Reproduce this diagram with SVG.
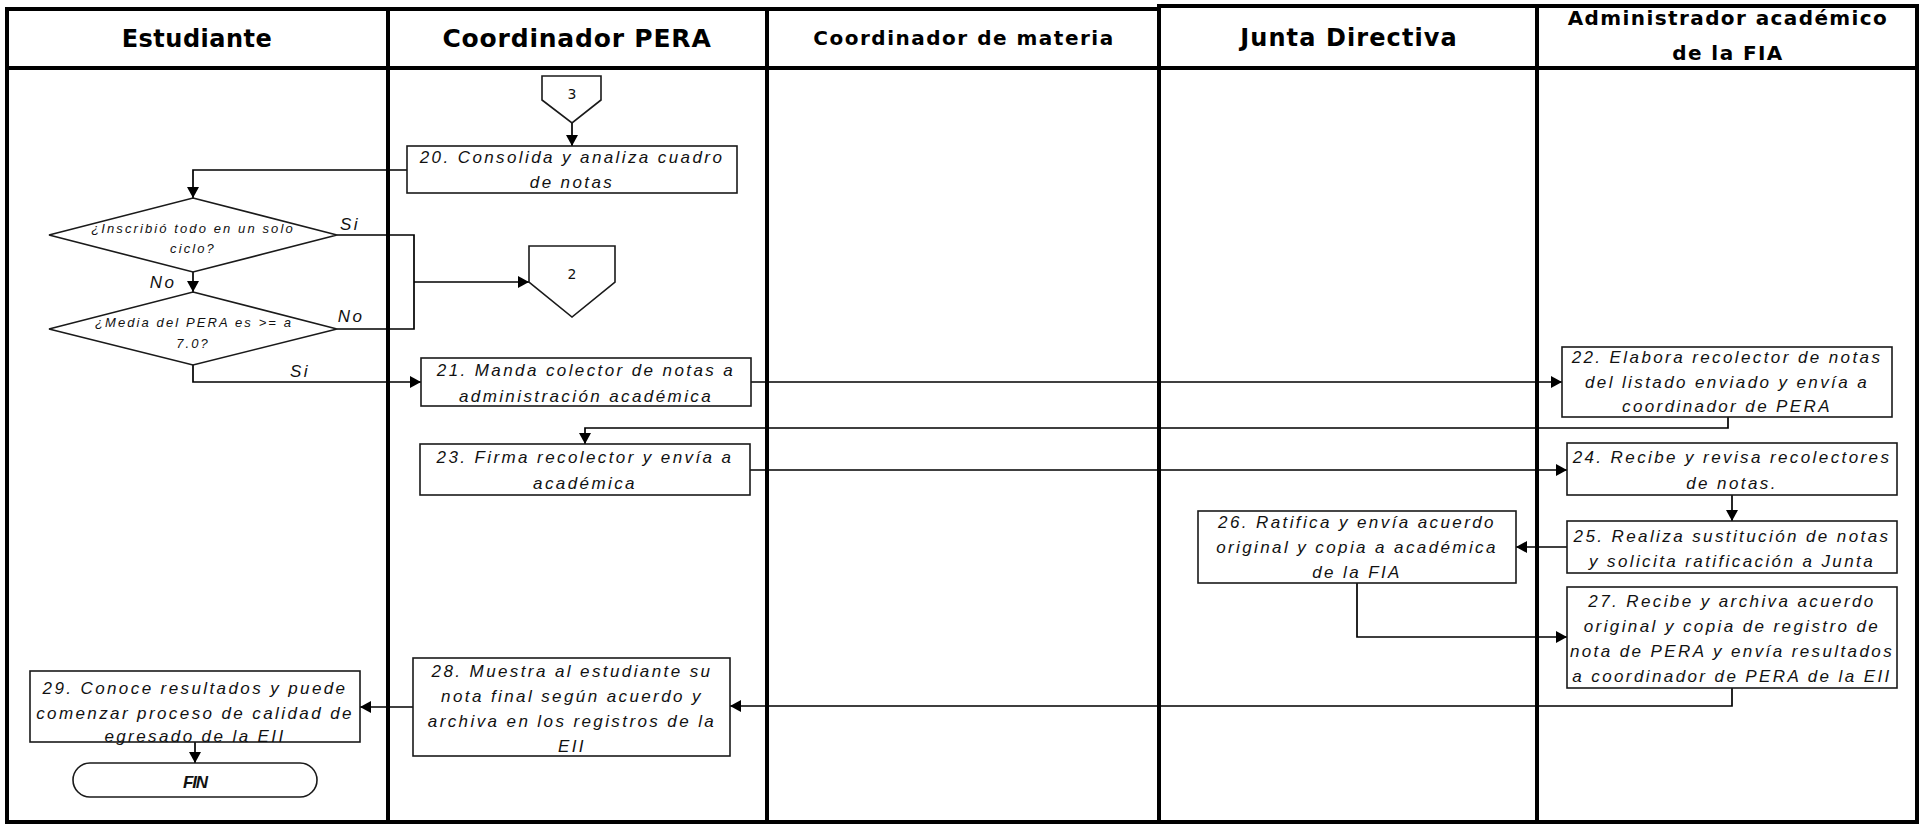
<svg xmlns="http://www.w3.org/2000/svg" width="1923" height="825" viewBox="0 0 1923 825">
<style>
.frame{stroke:#000;stroke-width:4;fill:none;stroke-linecap:square}
.box{fill:#fff;stroke:#1a1a1a;stroke-width:1.6}
.t{font-family:"Liberation Sans",Arial,sans-serif;font-style:italic;font-size:17px;letter-spacing:2.4px;text-anchor:middle;fill:#111}
.d{font-size:13px;letter-spacing:2.1px}
.lb{font-size:17px;letter-spacing:2.5px}
.fin{font-weight:bold;letter-spacing:-1.2px}
.hd{font-family:"DejaVu Sans",sans-serif;font-weight:bold;text-anchor:middle;fill:#000}
.num{font-family:"DejaVu Sans",sans-serif;font-size:14px;text-anchor:middle;fill:#111}
.c{fill:none;stroke:#000;stroke-width:1.7}
.ca{fill:none;stroke:#000;stroke-width:1.7;marker-end:url(#ah)}
</style>
<defs>
<marker id="ah" markerUnits="userSpaceOnUse" markerWidth="12" markerHeight="12" refX="11" refY="6" orient="auto">
<path d="M0,0 L11,6 L0,12 z" fill="#000"/>
</marker>
</defs>
<rect x="0" y="0" width="1923" height="825" fill="#fff"/>

<!-- swimlane frame -->
<g id="lanes">
<line class="frame" x1="7" y1="9" x2="1159" y2="9"/>
<line class="frame" x1="1159" y1="6" x2="1917" y2="6"/>
<line class="frame" x1="7" y1="9" x2="7" y2="822"/>
<line class="frame" x1="1917" y1="6" x2="1917" y2="822"/>
<line class="frame" x1="7" y1="822" x2="1917" y2="822"/>
<line class="frame" x1="7" y1="68" x2="1917" y2="68"/>
<line class="frame" x1="388" y1="9" x2="388" y2="822"/>
<line class="frame" x1="767" y1="9" x2="767" y2="822"/>
<line class="frame" x1="1159" y1="6" x2="1159" y2="822"/>
<line class="frame" x1="1537" y1="6" x2="1537" y2="822"/>
<text class="hd" x="197" y="47" font-size="24" letter-spacing="0.5">Estudiante</text>
<text class="hd" x="577" y="47" font-size="25" letter-spacing="0.8">Coordinador PERA</text>
<text class="hd" x="964" y="45" font-size="20" letter-spacing="1.5">Coordinador de materia</text>
<text class="hd" x="1349" y="46" font-size="24" letter-spacing="1.1">Junta Directiva</text>
<text class="hd" x="1728" y="25" font-size="20" letter-spacing="1.4">Administrador académico</text>
<text class="hd" x="1728" y="60" font-size="20" letter-spacing="1.4">de la FIA</text>
</g>

<!-- connectors -->
<g id="connectors">
<path class="ca" d="M572,123 V146"/>
<path class="ca" d="M407,170 H193 V198"/>
<path class="c" d="M337,235 H414 V329 H337"/>
<path class="ca" d="M414,282 H529"/>
<path class="ca" d="M193,272 V292"/>
<path class="ca" d="M193,365 V382 H421"/>
<path class="ca" d="M751,382 H1562"/>
<path class="ca" d="M1728,417 V428 H585 V444"/>
<path class="ca" d="M750,470 H1567"/>
<path class="ca" d="M1732,495 V521"/>
<path class="ca" d="M1567,547 H1516"/>
<path class="ca" d="M1357,583 V637 H1567"/>
<path class="ca" d="M1732,688 V706 H730"/>
<path class="ca" d="M413,707 H360"/>
<path class="ca" d="M195,742 V763"/>
<text class="t lb" x="350" y="230">Si</text>
<text class="t lb" x="163" y="288">No</text>
<text class="t lb" x="351" y="322">No</text>
<text class="t lb" x="300" y="377">Si</text>
</g>

<!-- off-page connector 3 -->
<g id="conn3">
<path class="box" d="M542,76 H601 V100 L572,123 L542,100 Z"/>
<text class="num" x="572" y="99">3</text>
</g>

<!-- off-page connector 2 -->
<g id="conn2">
<path class="box" d="M529,246 H615 V282 L572,317 L529,282 Z"/>
<text class="num" x="572" y="279">2</text>
</g>

<g id="n20">
<rect class="box" x="407" y="146" width="330" height="47"/>
<text class="t" x="572" y="163">20. Consolida y analiza cuadro</text>
<text class="t" x="572" y="188">de notas</text>
</g>

<g id="dec1">
<path class="box" d="M193,198 L337,235 L193,272 L49,235 Z"/>
<text class="t d" x="193" y="233">¿Inscribió todo en un solo</text>
<text class="t d" x="193" y="253">ciclo?</text>
</g>

<g id="dec2">
<path class="box" d="M193,292 L337,329 L193,365 L49,329 Z"/>
<text class="t d" x="194" y="327">¿Media del PERA es &gt;= a</text>
<text class="t d" x="193" y="348">7.0?</text>
</g>

<g id="n21">
<rect class="box" x="421" y="358" width="330" height="48"/>
<text class="t" x="586" y="376">21. Manda colector de notas a</text>
<text class="t" x="586" y="402">administración académica</text>
</g>

<g id="n22">
<rect class="box" x="1562" y="347" width="330" height="70"/>
<text class="t" x="1727" y="363">22. Elabora recolector de notas</text>
<text class="t" x="1727" y="388">del listado enviado y envía a</text>
<text class="t" x="1727" y="412">coordinador de PERA</text>
</g>

<g id="n23">
<rect class="box" x="420" y="444" width="330" height="51"/>
<text class="t" x="585" y="463">23. Firma recolector y envía a</text>
<text class="t" x="585" y="489">académica</text>
</g>

<g id="n24">
<rect class="box" x="1567" y="443" width="330" height="52"/>
<text class="t" x="1732" y="463">24. Recibe y revisa recolectores</text>
<text class="t" x="1732" y="489">de notas.</text>
</g>

<g id="n25">
<rect class="box" x="1567" y="521" width="330" height="52"/>
<text class="t" x="1732" y="542">25. Realiza sustitución de notas</text>
<text class="t" x="1732" y="567">y solicita ratificación a Junta</text>
</g>

<g id="n26">
<rect class="box" x="1198" y="511" width="318" height="72"/>
<text class="t" x="1357" y="528">26. Ratifica y envía acuerdo</text>
<text class="t" x="1357" y="553">original y copia a académica</text>
<text class="t" x="1357" y="578">de la FIA</text>
</g>

<g id="n27">
<rect class="box" x="1567" y="587" width="330" height="101"/>
<text class="t" x="1732" y="607">27. Recibe y archiva acuerdo</text>
<text class="t" x="1732" y="632">original y copia de registro de</text>
<text class="t" x="1732" y="657">nota de PERA y envía resultados</text>
<text class="t" x="1732" y="682">a coordinador de PERA de la EII</text>
</g>

<g id="n28">
<rect class="box" x="413" y="658" width="317" height="98"/>
<text class="t" x="572" y="677">28. Muestra al estudiante su</text>
<text class="t" x="572" y="702">nota final según acuerdo y</text>
<text class="t" x="572" y="727">archiva en los registros de la</text>
<text class="t" x="572" y="752">EII</text>
</g>

<g id="n29">
<rect class="box" x="30" y="671" width="330" height="71"/>
<text class="t" x="195" y="694">29. Conoce resultados y puede</text>
<text class="t" x="195" y="719">comenzar proceso de calidad de</text>
<text class="t" x="195" y="742">egresado de la EII</text>
</g>

<g id="fin">
<rect class="box" x="73" y="763" width="244" height="34" rx="17" ry="17"/>
<text class="t fin" x="195" y="788">FIN</text>
</g>
</svg>
